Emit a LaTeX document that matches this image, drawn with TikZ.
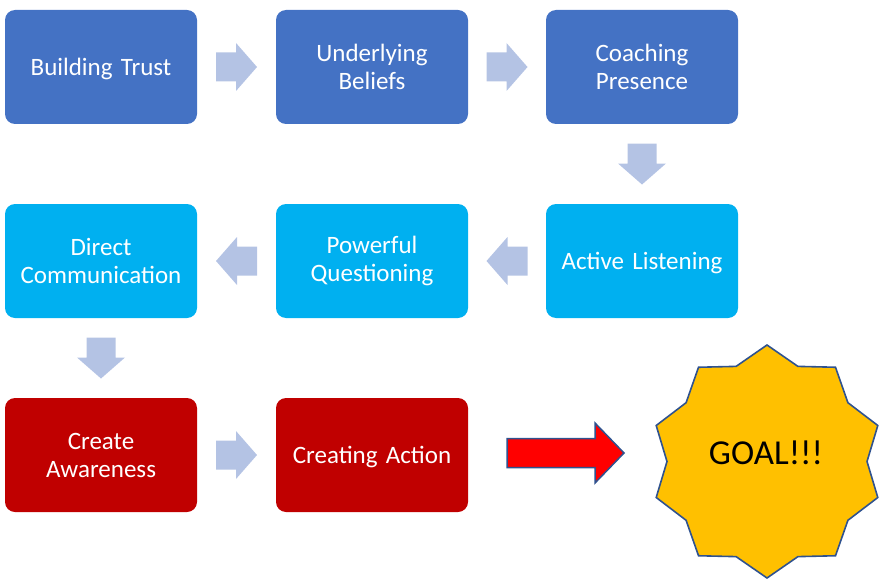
\documentclass[tikz,border=0pt]{standalone}
\usepackage{fontspec}
\setmainfont{Carlito}
\usetikzlibrary{shapes.geometric,calc}
\definecolor{rowA}{HTML}{4472C4}
\definecolor{rowB}{HTML}{00B0F0}
\definecolor{rowC}{HTML}{C00000}
\definecolor{arrowblue}{HTML}{B4C3E4}
\definecolor{goldfill}{HTML}{FFC000}
\definecolor{edgeblue}{HTML}{2F528F}
\tikzset{
  box/.style={rounded corners=10pt, minimum width=192pt, minimum height=114pt,
    text width=190pt, align=center, text=white, inner sep=0pt,
    font=\fontsize{25}{28}\selectfont},
  onebox/.style={box, text depth=0pt},
  blockarrow/.pic={\fill[arrowblue] (-20.5,-14.5) -- (-0.5,-14.5) -- (-0.5,-24) -- (20.5,0)
      -- (-0.5,24) -- (-0.5,14.5) -- (-20.5,14.5) -- cycle;},
  redarrow/.pic={\draw[fill=red, draw=edgeblue, line width=1.5pt] (-58.5,-14.5) -- (29.5,-14.5)
      -- (29.5,-30) -- (58.5,0) -- (29.5,30) -- (29.5,14.5) -- (-58.5,14.5) -- cycle;},
  goalstar/.style={star, star points=10, star point ratio=1.165, minimum size=233pt,
    inner sep=0pt, fill=goldfill, draw=edgeblue, line width=1.6pt},
  goaltext/.style={inner sep=0pt, font=\fontsize{35}{40}\selectfont}
}
\begin{document}
\begin{tikzpicture}[x=1pt,y=-1pt]
\useasboundingbox (0,0) rectangle (891,583);
\node[onebox,fill=rowA] (trust) at (101,67) {Building Trust};
\node[box,fill=rowA] (beliefs) at (372,67) {Underlying\\Beliefs};
\node[box,fill=rowA] (presence) at (642,67) {Coaching\\Presence};
\node[onebox,fill=rowB] (listening) at (642,261) {Active Listening};
\node[box,fill=rowB] (questioning) at (372,261) {Powerful\\Questioning};
\node[box,fill=rowB] (communication) at (101,261) {Direct\\Communication};
\node[box,fill=rowC] (awareness) at (101,455) {Create\\Awareness};
\node[onebox,fill=rowC] (action) at (372,455) {Creating Action};
\node[goalstar] (goal) at (767,461.5) {};
\node[goaltext] (goallabel) at ($(goal.center)+(-1,-9)$) {GOAL!!!};
\pic at ($(trust.east)!0.5!(beliefs.west)$) {blockarrow};
\pic at ($(beliefs.east)!0.5!(presence.west)$) {blockarrow};
\pic[rotate=-90] at ($(presence.south)!0.5!(listening.north)$) {blockarrow};
\pic[rotate=180] at ($(listening.west)!0.5!(questioning.east)$) {blockarrow};
\pic[rotate=180] at ($(questioning.west)!0.5!(communication.east)$) {blockarrow};
\pic[rotate=-90] at ($(communication.south)!0.5!(awareness.north)$) {blockarrow};
\pic at ($(awareness.east)!0.5!(action.west)$) {blockarrow};
\coordinate (redmid) at (565.5,453);
\pic at (redmid) {redarrow};
\end{tikzpicture}
\end{document}
